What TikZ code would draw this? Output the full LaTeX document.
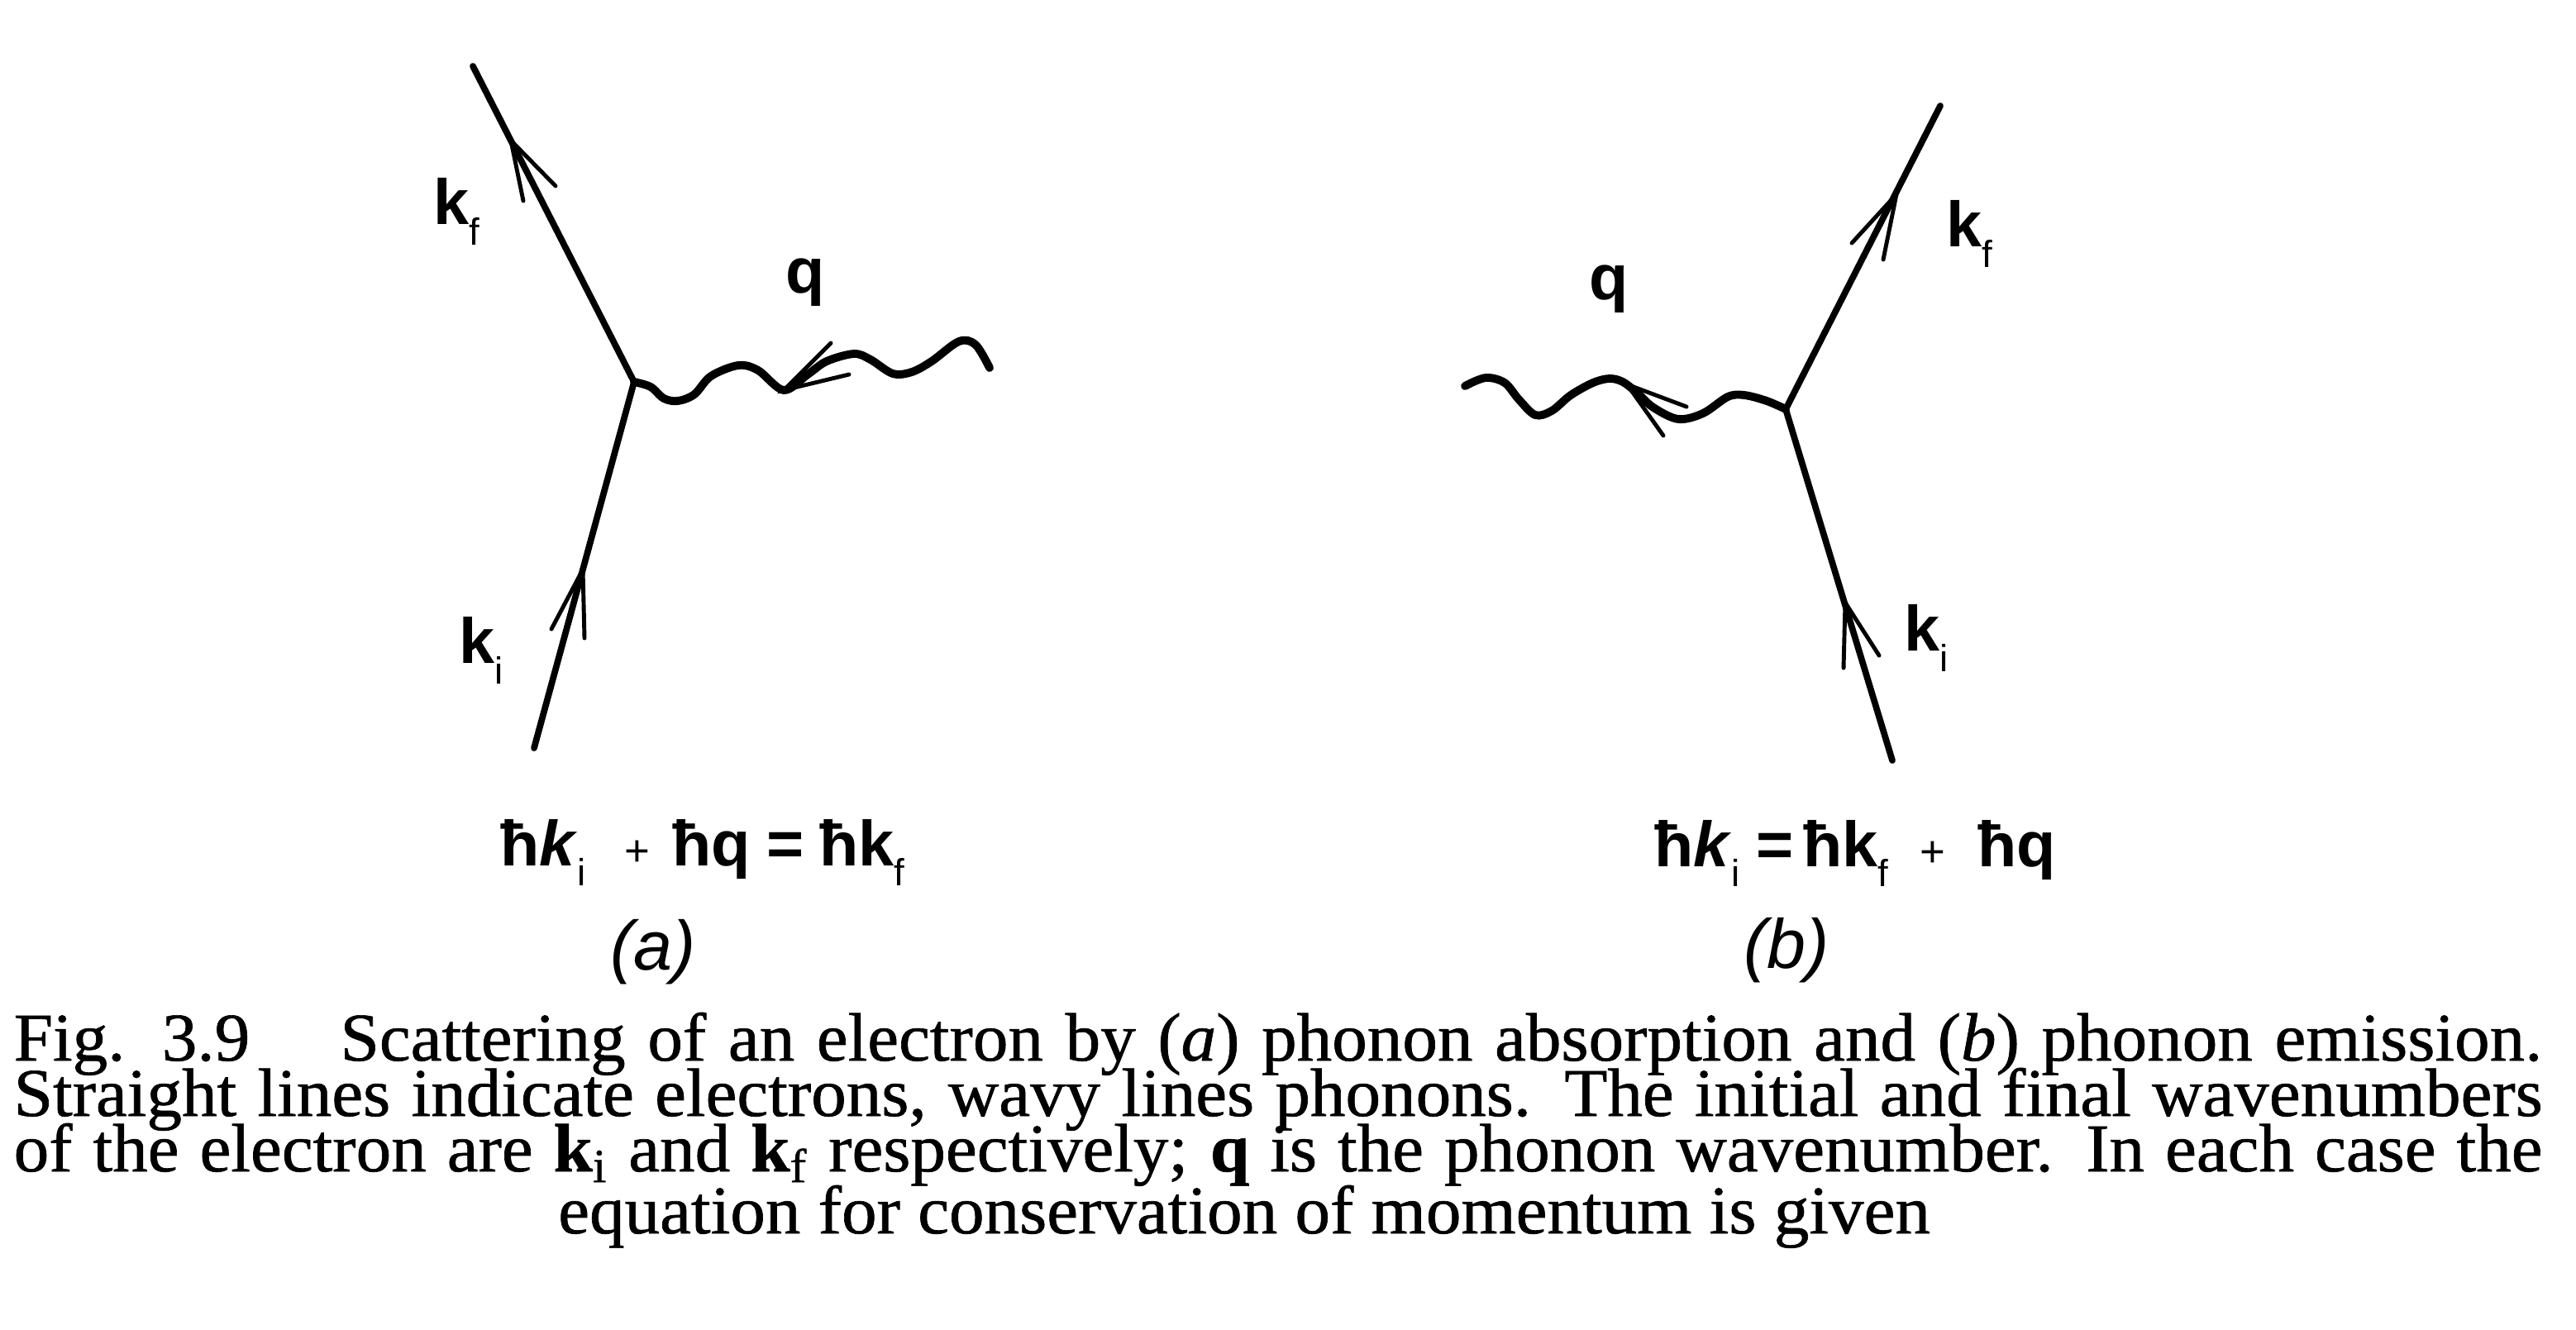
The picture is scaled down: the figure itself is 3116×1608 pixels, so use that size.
\documentclass[tikz,border=0pt]{standalone}
\usepackage{fontspec}
\setmainfont{Liberation Serif}
\newfontfamily\capfont[FakeStretch=1.03,FakeBold=0.8]{Liberation Serif}
\newfontfamily\labfont{Liberation Sans}
\newcommand\lsub[1]{\raisebox{-0.32em}{\fontsize{13}{13}\selectfont\mdseries\upshape #1}}
\begin{document}
\begin{tikzpicture}[x=0.01cm,y=-0.01cm,
  eline/.style={line width=2.2pt, line cap=round},
  wline/.style={line width=2.8pt, line cap=round, line join=round},
  barb/.style={line width=1.4pt, line cap=round, line join=miter},
  lab/.style={font=\labfont\fontsize{22}{22}\selectfont\bfseries, inner sep=0pt},
  eqn/.style={font=\labfont\fontsize{22}{22}\selectfont\bfseries, inner sep=0pt, anchor=base},
  part/.style={font=\labfont\fontsize{24}{24}\selectfont\itshape, inner sep=0pt},
  capline/.style={font=\capfont\fontsize{23.5}{23.5}\selectfont, inner sep=0pt, anchor=base west}]
\useasboundingbox (0,0) rectangle (3116,1608);

% ---------- diagram (a) ----------
\coordinate (vA) at (767,462);
\coordinate (kfA) at (572,80);
\coordinate (kiA) at (646,905);
\coordinate (qA) at (1197,445);
\draw[eline] (vA) -- (kfA);
\draw[eline] (kiA) -- (vA);
\draw[wline] plot[smooth, tension=0.55] coordinates {(vA) (787,468) (803,482) (820,485) (840,477) (860,455) (893,442) (917,448) (948,472) (977,453) (1000,437) (1033,428) (1053,435) (1080,452) (1103,450) (1127,437) (1160,413) (1180,417) (qA)};
% arrow heads
\coordinate (tfA) at (618,170);
\draw[barb] (672,225) -- (tfA) -- (633,243);
\coordinate (tiA) at (705,689);
\draw[barb] (667,761) -- (tiA) -- (707,772);
\coordinate (tqA) at (948,472);
\draw[barb] (1005,415) -- (tqA) -- (1027,453);
% labels
\node[lab] (lkfA) at (552,256) {k\lsub{f}};
\node[lab] (lkiA) at (582,787) {k\lsub{i}};
\node[lab] (lqA) at (974,342) {q};
\node[eqn] (eqA) at (850,1047) {ħ\textit{k}\lsub{i}\hspace{0.6em}{\mdseries\fontsize{15}{15}\selectfont +}\hspace{0.35em}ħq\hspace{0.25em}=\hspace{0.25em}ħk\lsub{f}};
\node[part] (pA) at (790,1152) {(a)};

% ---------- diagram (b) ----------
\coordinate (vB) at (2160,495);
\coordinate (kfB) at (2347,128);
\coordinate (kiB) at (2289,920);
\coordinate (qB) at (1772,467);
\draw[eline] (vB) -- (kfB);
\draw[eline] (kiB) -- (vB);
\draw[wline] plot[smooth, tension=0.55] coordinates {(vB) (2137,485) (2110,478) (2090,480) (2060,500) (2030,507) (2000,493) (1980,475) (1963,462) (1947,458) (1927,463) (1900,478) (1877,497) (1857,502) (1837,483) (1820,463) (1797,457) (qB)};
\coordinate (tfB) at (2294,235);
\draw[barb] (2240,294) -- (tfB) -- (2278,314);
\coordinate (tiB) at (2232,729);
\draw[barb] (2230,808) -- (tiB) -- (2273,793);
\coordinate (tqB) at (1968,465);
\draw[barb] (2040,492) -- (tqB) -- (2012,527);
\node[lab] (lkfB) at (2382,283) {k\lsub{f}};
\node[lab] (lkiB) at (2330,772) {k\lsub{i}};
\node[lab] (lqB) at (1946,350) {q};
\node[eqn] (eqB) at (2244,1048) {ħ\textit{k}\lsub{i}\hspace{0.25em}=\hspace{0.15em}ħk\lsub{f}\hspace{0.5em}{\mdseries\fontsize{15}{15}\selectfont +}\hspace{0.5em}ħq};
\node[part] (pB) at (2161,1150) {(b)};

% ---------- caption ----------
\node[capline] (c1) at (16,1283) {\makebox[30.57cm][s]{Fig. 3.9\hspace{1em} Scattering of an electron by (\textit{a}) phonon absorption and (\textit{b}) phonon emission.}};
\node[capline] (c2) at (16,1350) {\makebox[30.57cm][s]{Straight lines indicate electrons, wavy lines phonons. The initial and final wavenumbers}};
\node[capline] (c3) at (16,1417) {\makebox[30.57cm][s]{of the electron are \textbf{k}\textsubscript{i} and \textbf{k}\textsubscript{f} respectively; \textbf{q} is the phonon wavenumber. In each case the}};
\node[capline, anchor=base] (c4) at (1505,1492) {equation for conservation of momentum is given};
\end{tikzpicture}
\end{document}
